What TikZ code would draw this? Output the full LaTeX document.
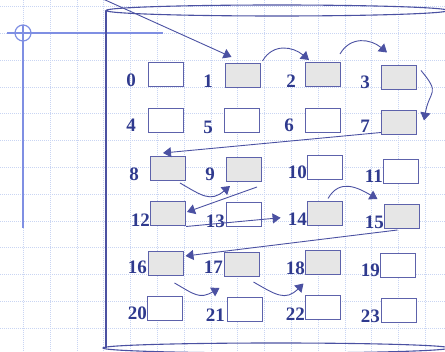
\documentclass[tikz,border=0pt]{standalone}
\usepackage{fontspec}
\setmainfont{Liberation Serif}
\usepackage{tikz}
\usetikzlibrary{arrows.meta}
\definecolor{gridblue}{HTML}{C9D5F3}
\definecolor{crossblue}{HTML}{7F8FE3}
\definecolor{inkblue}{HTML}{4B51A2}
\definecolor{numblue}{HTML}{2F3A8E}
\definecolor{cellgrey}{HTML}{E6E6E6}
\tikzset{
  cell/.style ={draw=inkblue!90, line width=1pt, minimum width=35pt, minimum height=24pt, inner sep=0pt},
  num/.style  ={font=\bfseries\fontsize{19}{19}\selectfont, text=numblue, anchor=base east, inner sep=0pt},
  gridln/.style={gridblue, line width=0.6pt, dash pattern=on 1pt off 1pt},
  cross/.style={crossblue, line width=1.2pt},
  wall/.style ={inkblue, line width=1.1pt},
  arr/.style  ={-{Triangle[length=8pt,width=10pt]}, draw=inkblue, line width=0.9pt},
}

\begin{document}
\begin{tikzpicture}[x=1pt,y=1pt]
  \useasboundingbox (0,0) rectangle (445,-352);
  \clip (0,0) rectangle (445,-352);
  % background grid
  \foreach \i in {0,...,15} \draw[gridln] (23.3+26.8*\i,0) -- ++(0,-352);
  \foreach \j in {0,...,12} \draw[gridln] (0,-6.5-26.8*\j) -- ++(445,0);
  % crosshair
  \draw[cross] (7,-33) -- (163,-33);
  \draw[cross] (23,-25) -- (23,-228);
  \draw[cross] (23,-33) circle (8pt);
  % cylinder
  \draw[wall] (277,-10.5) ellipse (171pt and 5.5pt);
  \draw[wall] (106,-11) -- (106,-348);
  \draw[wall] (276,-348) ellipse (173pt and 5pt);
  % cells and their numbers
  \foreach \n/\cx/\cy/\f/\lx/\ly in {
      0/166/74.5/white/136/87,      1/242.5/75.5/cellgrey/213/88,
      2/323/74.5/cellgrey/296/88,   3/399/78/cellgrey/370/89,
      4/166/120.5/white/136/132,    5/242/121/white/213/134,
      6/323/120.5/white/294/132,    7/399/123/cellgrey/370/133,
      8/168/168.5/cellgrey/139/181, 9/244/169.5/cellgrey/215/181,
      10/325/168/white/307/179,     11/401/171.5/white/383/183,
      12/168/214/cellgrey/150/227,  13/244/215/white/225/228,
      14/325/214/cellgrey/307/226,  15/401.5/216.5/cellgrey/384/229,
      16/165.5/263.5/cellgrey/147/274, 17/241.5/264.5/cellgrey/223/274,
      18/322.5/263/cellgrey/305/275,   19/398/265.5/white/380/277,
      20/165/308.5/white/147/320,   21/244.5/310/white/225/322,
      22/322.5/308/white/305/321,   23/398.5/311/white/380/323} {
    \node[cell, fill=\f] (b\n) at (\cx,-\cy) {};
    \node[num] (l\n) at (\lx,-\ly) {\n};
  }
  % visiting order
  \coordinate (src) at (103,1);
  \draw[arr] (src) -- ([shift={(7,6)}]b1.north west);
  \draw[arr] ([shift={(2,2)}]b1.north east) to[out=60,in=140,looseness=1.15] ([shift={(4,2)}]b2.north west);
  \draw[arr] ([shift={(-1,8)}]b2.north east) to[out=60,in=140,looseness=1.15] ([shift={(6,13)}]b3.north west);
  \draw[arr] ([shift={(4,-5)}]b3.north east) to[out=-50,in=80,looseness=1.6] ([shift={(7,-10)}]b7.north east);
  \draw[arr] ([yshift=3]b7.south west) -- ([shift={(13,3)}]b8.north west);
  \draw[arr] ([shift={(-6,-2)}]b8.south east) to[out=-30,in=-140,looseness=1.3] ([shift={(4,-4)}]b9.south west);
  \draw[arr] ([shift={(-5,-5)}]b9.south east) -- ([shift={(1,2)}]b12.east);
  \draw[arr] (b12.south east) -- ([shift={(-7,2)}]l14.west);
  \draw[arr] ([shift={(3,3)}]b14.north) to[out=60,in=150,looseness=1.2] ([shift={(-6,5)}]b15.north west);
  \draw[arr] ([shift={(-4,-1)}]b15.south) -- ([shift={(2,-5)}]b16.north east);
  \draw[arr] ([shift={(9,-7)}]b16.south) to[out=-30,in=-150,looseness=1.3] ([shift={(-4,-11)}]b17.south west);
  \draw[arr] ([shift={(-6,-5)}]b17.south east) to[out=-30,in=-135,looseness=1.3] ([shift={(-1,-8)}]b18.south west);
\end{tikzpicture}
\end{document}
